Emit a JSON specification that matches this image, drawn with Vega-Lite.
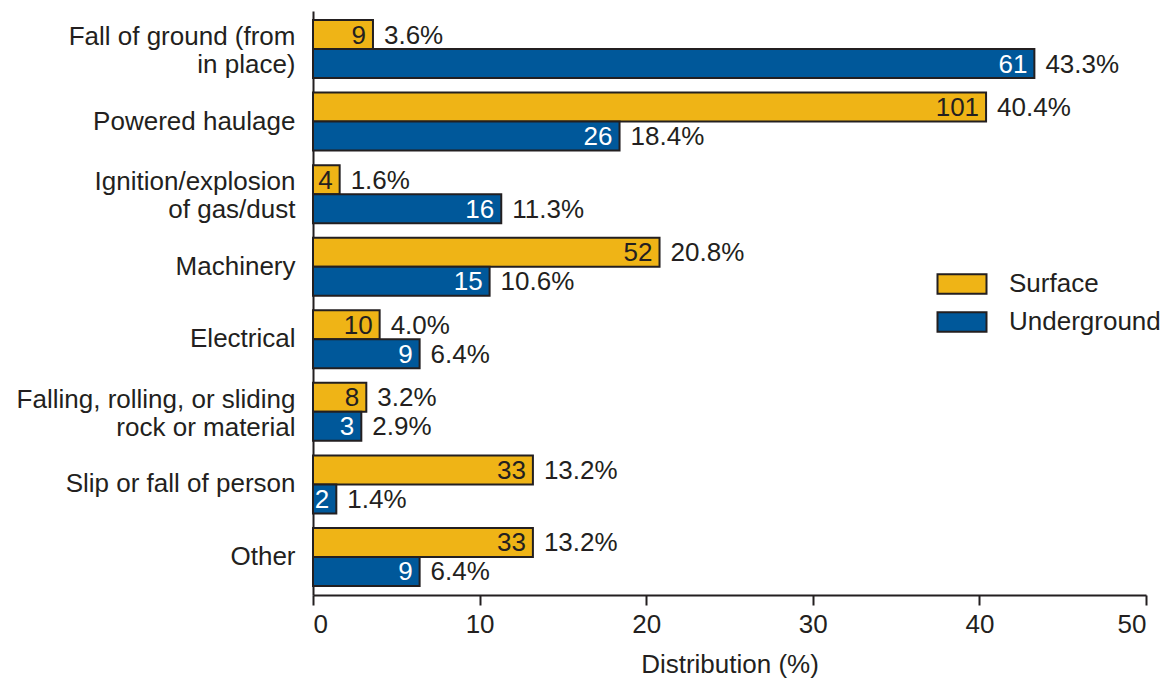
{
  "$schema": "https://vega.github.io/schema/vega-lite/v6.json",
  "autosize": {"type": "none"},
  "padding": {"left": 313, "top": 11, "right": 18, "bottom": 85},
  "width": 833,
  "height": 584,
  "background": "white",
  "config": {
    "font": "Liberation Sans",
    "view": {"stroke": null},
    "text": {"font": "Liberation Sans", "fontSize": 26, "fill": "#231f20"}
  },
  "data": {
    "values": [
      {"cat": "Fall of ground (from|in place)", "type": "Surface", "count": 9, "pct": 3.6},
      {"cat": "Fall of ground (from|in place)", "type": "Underground", "count": 61, "pct": 43.3},
      {"cat": "Powered haulage", "type": "Surface", "count": 101, "pct": 40.4},
      {"cat": "Powered haulage", "type": "Underground", "count": 26, "pct": 18.4},
      {"cat": "Ignition/explosion|of gas/dust", "type": "Surface", "count": 4, "pct": 1.6},
      {"cat": "Ignition/explosion|of gas/dust", "type": "Underground", "count": 16, "pct": 11.3},
      {"cat": "Machinery", "type": "Surface", "count": 52, "pct": 20.8},
      {"cat": "Machinery", "type": "Underground", "count": 15, "pct": 10.6},
      {"cat": "Electrical", "type": "Surface", "count": 10, "pct": 4.0},
      {"cat": "Electrical", "type": "Underground", "count": 9, "pct": 6.4},
      {"cat": "Falling, rolling, or sliding|rock or material", "type": "Surface", "count": 8, "pct": 3.2},
      {"cat": "Falling, rolling, or sliding|rock or material", "type": "Underground", "count": 3, "pct": 2.9},
      {"cat": "Slip or fall of person", "type": "Surface", "count": 33, "pct": 13.2},
      {"cat": "Slip or fall of person", "type": "Underground", "count": 2, "pct": 1.4},
      {"cat": "Other", "type": "Surface", "count": 33, "pct": 13.2},
      {"cat": "Other", "type": "Underground", "count": 9, "pct": 6.4}
    ]
  },
  "transform": [
    {"calculate": "format(datum.pct, '.1f') + '%'", "as": "pctLabel"}
  ],
  "encoding": {
    "y": {
      "field": "cat",
      "type": "nominal",
      "sort": null,
      "scale": {"paddingInner": 0.2, "paddingOuter": 0.124},
      "axis": {
        "title": null,
        "labelExpr": "split(datum.value, '|')",
        "labelFont": "Liberation Sans",
        "labelFontSize": 26,
        "labelColor": "#231f20",
        "labelLineHeight": 28,
        "labelPadding": 18,
        "labelOffset": {"condition": {"test": "indexof(datum.value, '|') >= 0", "value": -12}, "value": 0},
        "ticks": false,
        "domainColor": "#231f20",
        "domainWidth": 2,
        "labelLimit": 400
      }
    },
    "yOffset": {"field": "type", "type": "nominal", "scale": {"paddingInner": 0, "paddingOuter": 0}},
    "x": {
      "field": "pct",
      "type": "quantitative",
      "scale": {"domain": [0, 50], "nice": false},
      "axis": {
        "title": "Distribution (%)",
        "titleFont": "Liberation Sans",
        "titleFontSize": 26,
        "titleFontWeight": "normal",
        "titleColor": "#231f20",
        "titlePadding": 14,
        "values": [0, 10, 20, 30, 40, 50],
        "grid": false,
        "labelFont": "Liberation Sans",
        "labelFontSize": 26,
        "labelColor": "#231f20",
        "labelPadding": 6,
        "tickSize": 10,
        "tickWidth": 2,
        "tickColor": "#231f20",
        "domainColor": "#231f20",
        "domainWidth": 2,
        "offset": 0
      }
    }
  },
  "layer": [
    {
      "mark": {"type": "bar", "stroke": "#231f20", "strokeWidth": 2},
      "encoding": {
        "color": {
          "field": "type",
          "type": "nominal",
          "scale": {"domain": ["Surface", "Underground"], "range": ["#EFB416", "#00589A"]},
          "legend": {
            "title": null,
            "orient": "none",
            "legendX": 634,
            "legendY": 258,
            "symbolType": "M-1.75,-0.7H1.75V0.7H-1.75Z",
            "symbolSize": 784,
            "symbolStrokeColor": "#231f20",
            "symbolStrokeWidth": 2,
            "symbolOpacity": 1,
            "labelFont": "Liberation Sans",
            "labelFontSize": 26,
            "labelColor": "#231f20",
            "labelOffset": 32,
            "rowPadding": 9,
            "labelLimit": 300
          }
        }
      }
    },
    {
      "mark": {"type": "text", "align": "right", "baseline": "middle", "dx": -7, "dy": 1},
      "encoding": {
        "text": {"field": "count", "type": "quantitative"},
        "color": {
          "condition": {"test": "datum.type === 'Underground'", "value": "white"},
          "value": "#231f20"
        }
      }
    },
    {
      "mark": {"type": "text", "align": "left", "baseline": "middle", "dx": 11, "dy": 1, "fill": "#231f20"},
      "encoding": {
        "text": {"field": "pctLabel", "type": "nominal"}
      }
    }
  ]
}
